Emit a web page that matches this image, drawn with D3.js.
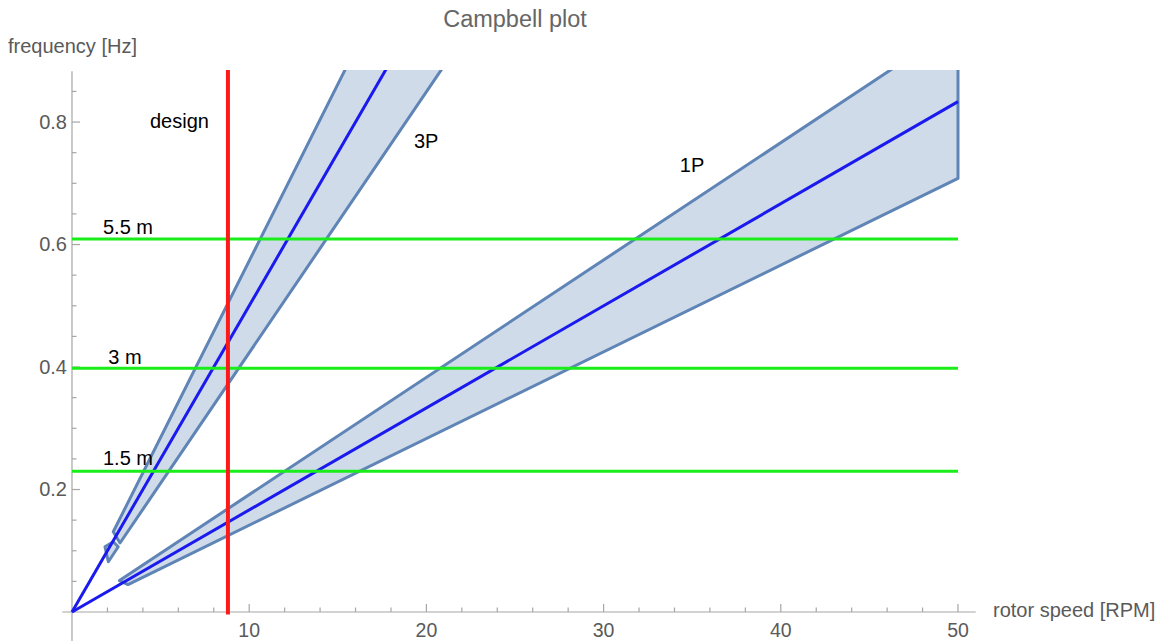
<!DOCTYPE html>
<html>
<head>
<meta charset="utf-8">
<script src="https://cdn.jsdelivr.net/npm/d3@7/dist/d3.min.js"></script>
<style>
  html, body { margin: 0; padding: 0; background: #fff; }
  text { font-family: "Liberation Sans", Arial, Helvetica, sans-serif; }
</style>
</head>
<body>
<svg id="chart" width="1165" height="641"></svg>
<script>
// ---------- data ----------
const xMajorTicks = [10, 20, 30, 40, 50];
const xMinorTicks = [2, 4, 6, 8, 12, 14, 16, 18, 22, 24, 26, 28, 32, 34, 36, 38, 42, 44, 46, 48];
const yMajorTicks = [0.2, 0.4, 0.6, 0.8];
const yMinorTicks = [0.05, 0.1, 0.15, 0.25, 0.3, 0.35, 0.45, 0.5, 0.55, 0.65, 0.7, 0.75, 0.85];

// rotor-speed lines (RPM, Hz)
const line1P = [[0, 0], [50, 0.8333]];
const line3P = [[0, 0], [20, 1.0]];

// tolerance bands (RPM, Hz) polygons
const band1P = [[2.68, 0.0514], [50, 0.958], [50, 0.708], [3.16, 0.0448]];
const band3P = [[2.33, 0.131], [20, 1.15], [25, 1.0625], [2.71, 0.1127]];
const band3Pstub = [[1.86, 0.1066], [2.33, 0.1148], [2.61, 0.1066], [2.05, 0.0821]];

// wave-height frequencies (Hz)
const waveNames = ["1.5 m", "3 m", "5.5 m"];
const waveFreqs = [0.23, 0.398, 0.609];

const designRPM = 8.8;

const lineLabels = [
  { text: "design", x: 4.4, y: 0.790 },
  { text: "3P", x: 19.3, y: 0.757 },
  { text: "1P", x: 34.3, y: 0.719 }
];
const waveLabelPos = [
  { x: 1.75, y: 0.240 },
  { x: 2.05, y: 0.405 },
  { x: 1.75, y: 0.617 }
];

// ---------- scales ----------
const x = d3.scaleLinear().domain([0, 50]).range([72, 958]);
const y = d3.scaleLinear().domain([0, 0.885]).range([612, 70]);

const svg = d3.select("#chart");

svg.append("defs").append("clipPath").attr("id", "plotClip")
  .append("rect")
  .attr("x", x(-1)).attr("y", y(0.885))
  .attr("width", x(50) - x(-1) + 5)
  .attr("height", y(-0.02) - y(0.885));

// ---------- axes ----------
const axisColor = "#a6a6a6";
const labelColor = "#5a5a5a";
const ax = svg.append("g");

ax.append("line")
  .attr("x1", x(-0.55)).attr("x2", x(51)).attr("y1", y(0)).attr("y2", y(0))
  .attr("stroke", axisColor).attr("stroke-width", 1.2);
ax.append("line")
  .attr("x1", x(0)).attr("x2", x(0)).attr("y1", y(0.883)).attr("y2", y(-0.05))
  .attr("stroke", axisColor).attr("stroke-width", 1.2);

ax.selectAll(".xmaj").data(xMajorTicks).join("line")
  .attr("x1", d => x(d)).attr("x2", d => x(d))
  .attr("y1", y(0)).attr("y2", y(0) - 8)
  .attr("stroke", axisColor).attr("stroke-width", 1.2);
ax.selectAll(".xmin").data(xMinorTicks).join("line")
  .attr("x1", d => x(d)).attr("x2", d => x(d))
  .attr("y1", y(0)).attr("y2", y(0) - 4.5)
  .attr("stroke", axisColor).attr("stroke-width", 1.2);
ax.selectAll(".xlab").data(xMajorTicks).join("text")
  .attr("x", d => x(d)).attr("y", 637)
  .attr("text-anchor", "middle").attr("font-size", 19.5)
  .attr("fill", labelColor).text(d => d);

ax.selectAll(".ymaj").data(yMajorTicks).join("line")
  .attr("x1", x(0)).attr("x2", x(0) + 8)
  .attr("y1", d => y(d)).attr("y2", d => y(d))
  .attr("stroke", axisColor).attr("stroke-width", 1.2);
ax.selectAll(".ymin").data(yMinorTicks).join("line")
  .attr("x1", x(0)).attr("x2", x(0) + 4.5)
  .attr("y1", d => y(d)).attr("y2", d => y(d))
  .attr("stroke", axisColor).attr("stroke-width", 1.2);
ax.selectAll(".ylab").data(yMajorTicks).join("text")
  .attr("x", x(0) - 5).attr("y", d => y(d) + 6.5)
  .attr("text-anchor", "end").attr("font-size", 20)
  .attr("fill", labelColor).text(d => d.toFixed(1));

svg.append("text").attr("x", 8).attr("y", 53).attr("font-size", 20)
  .attr("fill", labelColor).text("frequency [Hz]");
svg.append("text").attr("x", 993).attr("y", 617).attr("font-size", 20)
  .attr("fill", labelColor).text("rotor speed [RPM]");
svg.append("text").attr("x", 515).attr("y", 27).attr("font-size", 23.5)
  .attr("text-anchor", "middle").attr("fill", "#666").text("Campbell plot");

// ---------- plot ----------
const plot = svg.append("g").attr("clip-path", "url(#plotClip)");
const line = d3.line().x(d => x(d[0])).y(d => y(d[1]));

[band1P, band3P, band3Pstub].forEach(b => {
  plot.append("path")
    .attr("d", line(b) + "Z")
    .attr("fill", "#d0dbea")
    .attr("stroke", "#5f84b6")
    .attr("stroke-width", 3)
    .attr("stroke-linejoin", "round");
});

[line1P, line3P].forEach(l => {
  plot.append("path").attr("d", line(l))
    .attr("fill", "none").attr("stroke", "#1a1aee").attr("stroke-width", 3);
});

plot.selectAll(".wave").data(waveFreqs).join("line")
  .attr("x1", x(0)).attr("x2", x(50))
  .attr("y1", d => y(d)).attr("y2", d => y(d))
  .attr("stroke", "#1aee1a").attr("stroke-width", 3);

plot.append("line")
  .attr("x1", x(designRPM)).attr("x2", x(designRPM))
  .attr("y1", y(0.885)).attr("y2", y(-0.004))
  .attr("stroke", "#ff1a1a").attr("stroke-width", 4);

// ---------- labels ----------
svg.selectAll(".llab").data(lineLabels).join("text")
  .attr("x", d => x(d.x)).attr("y", d => y(d.y))
  .attr("font-size", 20).attr("fill", "#000").text(d => d.text);

svg.selectAll(".wlab").data(waveNames).join("text")
  .attr("x", (d, i) => x(waveLabelPos[i].x)).attr("y", (d, i) => y(waveLabelPos[i].y))
  .attr("font-size", 20).attr("fill", "#000").text(d => d);
</script>
</body>
</html>
